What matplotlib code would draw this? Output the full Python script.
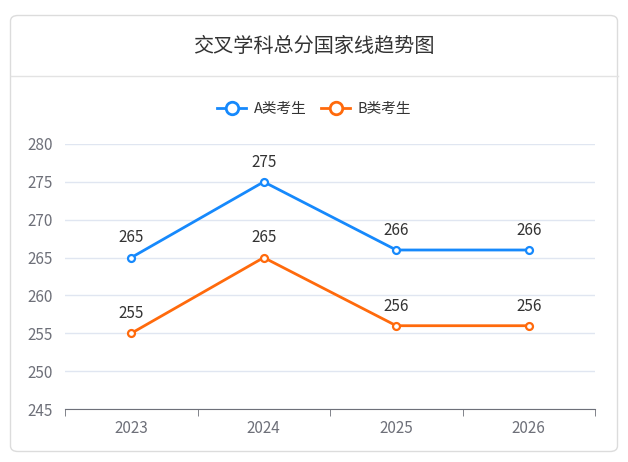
import matplotlib.pyplot as plt
from matplotlib import patches
from matplotlib.lines import Line2D

plt.rcParams['font.family'] = ['Noto Sans CJK SC', 'DejaVu Sans']

years = ["2023", "2024", "2025", "2026"]
score_a = [265, 275, 266, 266]
score_b = [255, 265, 256, 256]
series_names = ["A类考生", "B类考生"]
title = "交叉学科总分国家线趋势图"

blue = "#1689fc"
orange = "#ff6a0c"

W, H = 628, 462
fig = plt.figure(figsize=(W / 100, H / 100), dpi=100)

# card background with rounded border
card = patches.FancyBboxPatch(
    (10.5 / W, 10.5 / H), 607 / W, 436 / H,
    boxstyle="round,pad=0,rounding_size=0.012",
    transform=fig.transFigure, facecolor="white", edgecolor="#dcdcdc", lw=1,
    zorder=-5)
fig.patches.append(card)
fig.add_artist(Line2D([10.5 / W, 617.5 / W], [1 - 76 / H] * 2,
                      transform=fig.transFigure, color="#e3e3e3", lw=1))
fig.text(314 / W, 1 - 46 / H, title, ha="center", va="center",
         fontsize=14.5, color="#333333")

ax = fig.add_axes([65 / W, 1 - 409 / H, 530 / W, 265 / H])
ax.patch.set_alpha(0)
x = list(range(len(years)))
for vals, color, name in [(score_a, blue, series_names[0]), (score_b, orange, series_names[1])]:
    ax.plot(x, vals, color=color, lw=2, marker="o", ms=5, mfc="white",
            mec=color, mew=1.6, label=name, zorder=3, clip_on=False)
    for xi, v in zip(x, vals):
        ax.annotate(str(v), (xi, v), xytext=(0, 8), textcoords="offset points",
                    ha="center", va="bottom", fontsize=11, color="#333333")

ax.set_xlim(-0.5, len(years) - 0.5)
ax.set_ylim(245, 280)
ax.set_yticks(range(245, 281, 5))
ax.set_xticks(x)
ax.set_xticklabels(years)
ax.set_xticks([i - 0.5 for i in range(len(years) + 1)], minor=True)
ax.tick_params(axis="x", which="major", length=0, pad=8, labelsize=11, labelcolor="#6e7079")
ax.tick_params(axis="x", which="minor", length=5, color="#6e7079", direction="out")
ax.tick_params(axis="y", length=0, pad=9, labelsize=11, labelcolor="#6e7079")
ax.grid(axis="y", color="#e0e6f1", lw=1)
ax.set_axisbelow(True)
for s in ["top", "right", "left"]:
    ax.spines[s].set_visible(False)
ax.spines["bottom"].set_color("#6e7079")

handles = [Line2D([], [], color=c, lw=2, marker="o", ms=9, mfc="white", mec=c, mew=2)
           for c in (blue, orange)]
fig.legend(handles=handles, labels=series_names, loc="center",
           bbox_to_anchor=(314 / W, 1 - 109 / H), ncol=2, frameon=False,
           fontsize=10.5, handlelength=2.0, handletextpad=0.5, columnspacing=1.0,
           labelcolor="#333333")

fig.savefig("out.png", dpi=100)
